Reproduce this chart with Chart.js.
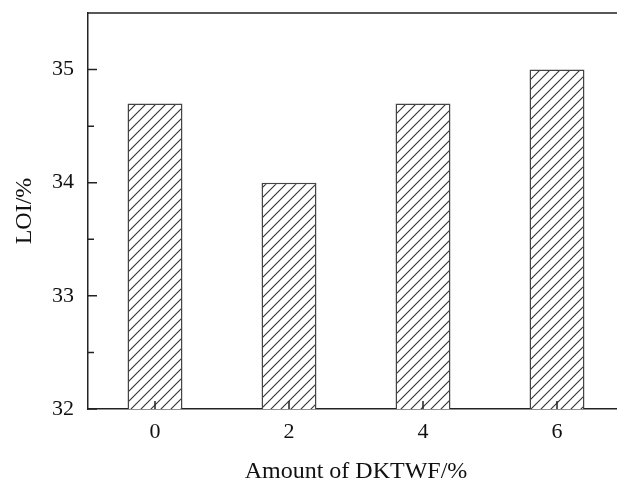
<!DOCTYPE html>
<html>
<head>
<meta charset="utf-8">
<script src="https://cdn.jsdelivr.net/npm/chart.js@4.4.0/dist/chart.umd.min.js"></script>
<style>
    html, body { margin: 0; padding: 0; background: #fff; overflow: hidden; }
    #wrap { width: 624px; height: 484px; }
</style>
</head>
<body>
<div id="wrap"><canvas id="chart-bar" width="624" height="484"></canvas></div>
<script>
// données
const categories = ['0', '2', '4', '6'];
const loiValues = [34.7, 34.0, 34.7, 35.0];
const yTicks = [32, 33, 34, 35];
const yMinorTicks = [32.5, 33.5, 34.5, 35.5];

const axisColor = '#222';
const textColor = '#111';
const serif = 'Liberation Serif, Times New Roman, serif';

// motif hachuré ////
function hatchPattern() {
    let c = document.createElement('canvas');
    c.width = 10;
    c.height = 10;
    let ctx = c.getContext('2d');
    ctx.fillStyle = '#fff';
    ctx.fillRect(0, 0, 10, 10);
    ctx.strokeStyle = '#333';
    ctx.lineWidth = 1.1;
    ctx.beginPath();
    ctx.moveTo(-1, 11); ctx.lineTo(11, -1);
    ctx.moveTo(-6, 6); ctx.lineTo(6, -6);
    ctx.moveTo(4, 16); ctx.lineTo(16, 4);
    ctx.stroke();
    return ctx.createPattern(c, 'repeat');
}

// cadre + graduations intérieures
const frame = {
    id: 'frame',
    afterDraw(chart) {
        let ctx = chart.ctx;
        let area = chart.chartArea;
        let y = chart.scales.y;
        let x = chart.scales.x;
        ctx.save();
        ctx.strokeStyle = axisColor;
        ctx.lineWidth = 1.5;
        ctx.beginPath();
        ctx.moveTo(area.left, area.top);
        ctx.lineTo(area.right, area.top);
        ctx.lineTo(area.right, area.bottom);
        yTicks.forEach(function (v) {
            let py = y.getPixelForValue(v);
            ctx.moveTo(area.left, py);
            ctx.lineTo(area.left + 9, py);
        });
        yMinorTicks.forEach(function (v) {
            let py = y.getPixelForValue(v);
            ctx.moveTo(area.left, py);
            ctx.lineTo(area.left + 6, py);
        });
        categories.forEach(function (c, i) {
            let px = x.getPixelForValue(i);
            ctx.moveTo(px, area.bottom);
            ctx.lineTo(px, area.bottom - 8);
        });
        ctx.stroke();
        ctx.restore();
    }
};

new Chart(
    document.getElementById('chart-bar'),
    {
        type: 'bar',
        data: {
            labels: categories,
            datasets: [{
                label: 'LOI',
                data: loiValues,
                backgroundColor: hatchPattern(),
                borderColor: '#444',
                borderWidth: 1.5,
                borderSkipped: false,
                barPercentage: 0.41,
                categoryPercentage: 1,
            }],
        },
        options: {
            responsive: false,
            animation: false,
            layout: { padding: { top: 13, right: 0, left: 0, bottom: 0 } },
            plugins: {
                legend: { display: false },
                tooltip: { enabled: false },
            },
            scales: {
                x: {
                    offset: true,
                    grid: { display: false, drawTicks: false },
                    border: { display: true, color: axisColor, width: 1.5 },
                    ticks: {
                        padding: 10,
                        color: textColor,
                        font: { family: serif, size: 22 },
                    },
                    title: {
                        display: true,
                        text: 'Amount of DKTWF/%',
                        color: textColor,
                        font: { family: serif, size: 24, lineHeight: 1 },
                        padding: { top: 0, bottom: 0 },
                    },
                    afterFit(scale) {
                        scale.height = 75;
                        scale.paddingLeft = 0;
                        scale.paddingRight = 0;
                    },
                },
                y: {
                    min: 32,
                    max: 35.5,
                    grid: { display: false, drawTicks: false },
                    border: { display: true, color: axisColor, width: 1.5 },
                    afterBuildTicks(scale) {
                        scale.ticks = yTicks.map(function (v) { return { value: v }; });
                    },
                    ticks: {
                        padding: 14,
                        color: textColor,
                        font: { family: serif, size: 22 },
                    },
                    title: {
                        display: true,
                        text: 'LOI/%',
                        color: textColor,
                        font: { family: serif, size: 24, lineHeight: 1 },
                        padding: { top: 13, bottom: 0 },
                    },
                    afterFit(scale) {
                        scale.width = 88;
                        scale.paddingTop = 0;
                        scale.paddingBottom = 0;
                    },
                },
            },
        },
        plugins: [frame],
    }
);
</script>
</body>
</html>
